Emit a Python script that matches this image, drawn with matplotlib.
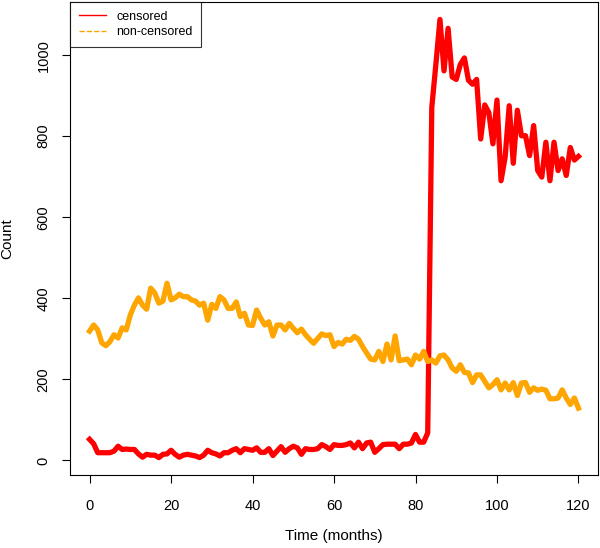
import matplotlib
matplotlib.use('Agg')
import matplotlib.pyplot as plt
import numpy as np

plt.rcParams['font.family'] = ['Liberation Sans', 'DejaVu Sans']

months = np.arange(0, 121)

censored = [52, 41, 19, 19, 19, 19, 23, 35, 27, 28,
            27, 27, 16, 8, 15, 13, 13, 7, 15, 16,
            25, 15, 8, 13, 15, 13, 11, 7, 13, 25,
            19, 16, 11, 19, 19, 25, 29, 19, 29, 27,
            25, 31, 20, 20, 29, 12, 23, 34, 20, 29,
            35, 31, 15, 29, 27, 27, 29, 39, 34, 27,
            39, 37, 37, 39, 43, 31, 45, 29, 43, 45,
            20, 29, 39, 40, 40, 40, 29, 40, 40, 43,
            64, 45, 45, 68, 871, 977, 1088, 961, 1066, 946,
            940, 977, 993, 938, 928, 940, 793, 877, 858, 781,
            889, 690, 748, 875, 733, 864, 801, 801, 752, 826,
            715, 699, 785, 690, 785, 715, 744, 703, 772, 741,
            750]

non_censored = [319, 334, 322, 290, 283, 293, 310, 302, 327, 322,
                359, 383, 401, 383, 373, 425, 413, 388, 393, 437,
                396, 401, 410, 404, 404, 396, 393, 383, 388, 346,
                385, 375, 404, 396, 375, 375, 391, 355, 363, 334,
                333, 371, 351, 334, 342, 307, 334, 334, 322, 338,
                326, 315, 324, 310, 299, 289, 301, 312, 308, 310,
                281, 291, 287, 299, 296, 306, 299, 281, 265, 250,
                248, 269, 244, 287, 248, 307, 246, 248, 250, 236,
                260, 250, 269, 244, 248, 240, 258, 260, 248, 228,
                220, 236, 217, 216, 192, 211, 211, 195, 179, 187,
                199, 174, 191, 174, 192, 160, 191, 192, 168, 179,
                173, 176, 173, 152, 152, 154, 174, 154, 138, 154,
                129]

fig = plt.figure(figsize=(6, 5.48), dpi=100)
ax = fig.add_axes([0.1167, 0.1332, 0.88, 0.8632])

ax.plot(months, censored, color='red', lw=3.8, solid_joinstyle='round')
ax.plot(months, non_censored, color='orange', lw=3.8, solid_joinstyle='round')

ax.set_xlim(-4.8, 124.8)
ax.set_ylim(-36, 1131)
ax.set_xticks([0, 20, 40, 60, 80, 100, 120])
ax.set_yticks([0, 200, 400, 600, 800, 1000])
ax.tick_params(direction='out', length=6, width=0.8, labelsize=10.5)
ax.tick_params(axis='x', pad=11)
ax.tick_params(axis='y', pad=8)
for lab in ax.get_yticklabels():
    lab.set_rotation(90)
    lab.set_va('center')
for s in ax.spines.values():
    s.set_linewidth(0.8)

ax.set_xlabel('Time (months)', fontsize=11, labelpad=12)
ax.set_ylabel('Count', fontsize=11, labelpad=16)

h1, = ax.plot([], [], color='red', lw=1)
h2, = ax.plot([], [], color='orange', lw=1, ls='--')
leg = ax.legend([h1, h2], ['censored', 'non-censored'], loc='upper left',
                fontsize=9, frameon=True, fancybox=False, borderaxespad=0,
                handlelength=2.2, borderpad=0.7, labelspacing=0.3)
leg.get_frame().set_edgecolor('black')
leg.get_frame().set_linewidth(0.8)

plt.savefig('out.png', dpi=100)
